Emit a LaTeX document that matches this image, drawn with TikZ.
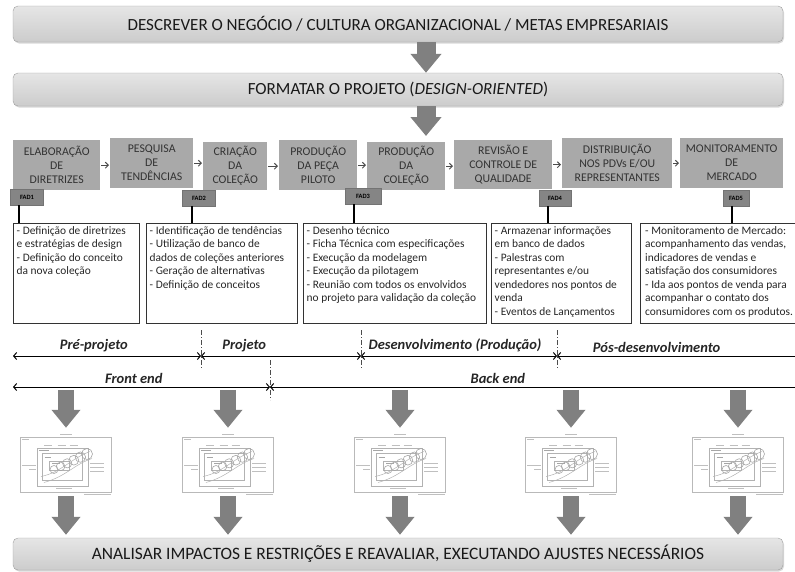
\documentclass[tikz,border=0pt]{standalone}
\usepackage{fontspec}
\setmainfont{Carlito}
\usetikzlibrary{arrows.meta,shadows,positioning}

\definecolor{stepgray}{HTML}{A9A9A9}
\definecolor{fadgray}{HTML}{858585}
\definecolor{arrowgray}{HTML}{808080}
\definecolor{inkgray}{HTML}{262626}

\tikzset{
    banner/.style={rectangle, rounded corners=5pt, draw=gray!75, top color=gray!20, bottom color=gray!40,
        drop shadow={shadow xshift=1pt, shadow yshift=-1.5pt, opacity=.3},
        minimum width=770pt, text=black!90, font=\fontsize{17}{20}\selectfont},
    stepbox/.style={rectangle, fill=stepgray, text=black!80, align=center, anchor=north west,
        font=\fontsize{11.8}{14}\selectfont, inner sep=0pt},
    fad/.style={rectangle, fill=fadgray, draw=black!55, text=black, minimum height=16pt,
        font=\bfseries\fontsize{6.5}{7}\selectfont, inner sep=0pt},
    notebox/.style={rectangle, draw=black!80, line width=.8pt, anchor=north west, inner sep=0pt},
    notetext/.style={anchor=north west, align=left, text=inkgray, font=\fontsize{11.4}{13.5}\selectfont, inner sep=0pt},
    steparrow/.style={-{Straight Barb[length=3pt,width=6pt]}, line width=1pt, black!70},
    fadline/.style={line width=1.6pt, black},
    bigarrow/.style={arrowgray, line width=16pt, -{Triangle[width=28pt,length=18pt]}},
    widearrow/.style={arrowgray, line width=19pt, -{Triangle[width=30pt,length=19pt]}},
    phase/.style={{Straight Barb[length=3pt,width=7pt]}-{Straight Barb[length=3pt,width=7pt]}, line width=1pt},
    phaseopen/.style={{Straight Barb[length=3pt,width=7pt]}-, line width=1pt},
    phaselabel/.style={above=0pt, text=black!85, font=\bfseries\itshape\fontsize{14.5}{16}\selectfont},
    divider/.style={black!70, line width=.6pt, dash pattern=on 5pt off 2pt on 1pt off 2pt},
    thumbframe/.style={rectangle, draw=gray!55, line width=.5pt, minimum width=91pt, minimum height=55pt, inner sep=0pt},
    thumbline/.style={gray!50, line width=.8pt},
}

\begin{document}
\begin{tikzpicture}[x=1pt, y=-1pt]
    \useasboundingbox (0,0) rectangle (795,571);
    \clip (0,0) rectangle (795,571);

    % stages of the brief
    \node[banner, minimum height=36pt] (descr) at (398,24) {DESCREVER O NEGÓCIO / CULTURA ORGANIZACIONAL / METAS EMPRESARIAIS};
    \node[banner, minimum height=33pt] (fmt) at (398,89.5) {FORMATAR O PROJETO (\textit{DESIGN-ORIENTED})};
    \node[banner, minimum height=32pt, font=\fontsize{17.4}{20}\selectfont] (fin) at (398,554) {ANALISAR IMPACTOS E RESTRIÇÕES E REAVALIAR, EXECUTANDO AJUSTES NECESSÁRIOS};

    % process steps
    \node[stepbox, minimum width=87pt, minimum height=50pt] (b1) at (13,140) {ELABORAÇÃO\\DE\\DIRETRIZES};
    \node[stepbox, minimum width=83pt, minimum height=50pt] (b2) at (110,138) {PESQUISA\\DE\\TENDÊNCIAS};
    \node[stepbox, minimum width=64pt, minimum height=48pt] (b3) at (203,142) {CRIAÇÃO\\DA\\COLEÇÃO};
    \node[stepbox, minimum width=78pt, minimum height=50pt] (b4) at (279,140) {PRODUÇÃO\\DA PEÇA\\PILOTO};
    \node[stepbox, minimum width=78pt, minimum height=48pt] (b5) at (367,142) {PRODUÇÃO\\DA\\COLEÇÃO};
    \node[stepbox, minimum width=98pt, minimum height=49pt] (b6) at (454,140) {REVISÃO E\\CONTROLE DE\\QUALIDADE};
    \node[stepbox, minimum width=110pt, minimum height=50pt] (b7) at (562,138) {DISTRIBUIÇÃO\\NOS PDVs E/OU\\REPRESENTANTES};
    \node[stepbox, minimum width=103pt, minimum height=50pt] (b8) at (680,138) {MONITORAMENTO\\DE\\MERCADO};

    \foreach \a/\b in {b1/b2,b2/b3,b3/b4,b4/b5,b5/b6,b6/b7,b7/b8}
        \draw[steparrow] ([xshift=1pt]\a.east) -- ([xshift=-1pt]\a.east -| \b.west);

    \coordinate (ax) at (426,0);
    \draw[widearrow] (descr.south -| ax) -- (fmt.north -| ax);
    \draw[widearrow] (fmt.south -| ax) -- ([yshift=6pt]b5.north -| ax);

    % notes under each step
    \node[notebox, minimum width=126pt, minimum height=100pt] (tb1) at (13,223) {};
    \node[notebox, minimum width=151pt, minimum height=100pt] (tb2) at (146,223) {};
    \node[notebox, minimum width=183pt, minimum height=100pt] (tb3) at (303,223) {};
    \node[notebox, minimum width=140pt, minimum height=100pt] (tb4) at (491,223) {};
    \node[notebox, minimum width=170pt, minimum height=100pt] (tb5) at (640,223) {};

    \node[notetext] (t1) at ([shift={(3.5pt,-3pt)}]tb1.north west)
        {- Definição de diretrizes\\e estratégias de design\\- Definição do conceito\\da nova coleção};
    \node[notetext] (t2) at ([shift={(3.5pt,-3pt)}]tb2.north west)
        {- Identificação de tendências\\- Utilização de banco de\\dados de coleções anteriores\\- Geração de alternativas\\- Definição de conceitos};
    \node[notetext] (t3) at ([shift={(3.5pt,-3pt)}]tb3.north west)
        {- Desenho técnico\\- Ficha Técnica com especificações\\- Execução da modelagem\\- Execução da pilotagem\\- Reunião com todos os envolvidos\\no projeto para validação da coleção};
    \node[notetext] (t4) at ([shift={(3.5pt,-3pt)}]tb4.north west)
        {- Armazenar informações\\em banco de dados\\- Palestras com\\representantes e/ou\\vendedores nos pontos de\\venda\\- Eventos de Lançamentos};
    \node[notetext] (t5) at ([shift={(5pt,-3pt)}]tb5.north west)
        {- Monitoramento de Mercado:\\acompanhamento das vendas,\\indicadores de vendas e\\satisfação dos consumidores\\- Ida aos pontos de venda para\\acompanhar o contato dos\\consumidores com os produtos.};

    % FAD tags
    \node[fad, minimum width=33pt] (fad1) at (27,197) {FAD1};
    \node[fad, minimum width=33pt] (fad2) at (199,198) {FAD2};
    \node[fad, minimum width=36pt] (fad3) at (363,196) {FAD3};
    \node[fad, minimum width=32pt] (fad4) at (555,198) {FAD4};
    \node[fad, minimum width=26pt] (fad5) at (736,198) {FAD5};

    \draw[fadline] ([xshift=-8pt]fad1.south) -- ([xshift=-8pt]fad1.south |- tb1.north);
    \draw[fadline] ([xshift=-7pt]fad2.south) -- ([xshift=-7pt]fad2.south |- tb2.north);
    \draw[fadline] ([xshift=-9pt]fad3.south) -- ([xshift=-9pt]fad3.south |- tb3.north);
    \draw[fadline] ([xshift=-7pt]fad4.south) -- ([xshift=-7pt]fad4.south |- tb4.north);
    \draw[fadline] ([xshift=-4pt]fad5.south) -- ([xshift=-4pt]fad5.south |- tb5.north);

    % phases
    \coordinate (p0) at (13,356);
    \coordinate (p1) at (201,356);
    \coordinate (p2) at (361,356);
    \coordinate (p3) at (557,356);
    \coordinate (p4) at (800,356);
    \coordinate (q0) at (13,387);
    \coordinate (q1) at (270,387);
    \coordinate (q2) at (800,387);

    \foreach \p in {p1,p2,p3}
        \draw[divider] ([yshift=26pt]\p) -- ([yshift=-12pt]\p);
    \draw[divider] ([yshift=27pt]q1) -- ([yshift=-13pt]q1);

    \draw[phase] (p0) -- (p1) node[phaselabel, pos=.43] {Pré-projeto};
    \draw[phase] (p1) -- (p2) node[phaselabel, pos=.27] {Projeto};
    \draw[phase] (p2) -- (p3) node[phaselabel, pos=.48] {Desenvolvimento (Produção)};
    \draw[phaseopen] (p3) -- (p4) node[phaselabel, pos=.41] {Pós-desenvolvimento};
    \draw[phase] (q0) -- (q1) node[phaselabel, pos=.47] {Front end};
    \draw[phaseopen] (q1) -- (q2) node[phaselabel, pos=.43] {Back end};

    % design model thumbnails
    \foreach \i/\cx in {1/66,2/228,3/400,4/571,5/738} {
        \begin{scope}[shift={(\cx,464.5)}]
            \node[thumbframe] (th\i) at (0,0) {};
            \draw[gray!60, line width=.5pt] (-28.5,-16.5) rectangle (22.5,21.5);
            \draw[gray!60, line width=.5pt] (-23.5,-11.5) rectangle (16.5,15.5);
            \draw[gray!60, line width=.5pt] (-16.5,-3.5) rectangle (3.5,5.5);
            \foreach \t in {0,...,5}
                \draw[gray!70, line width=.6pt] ({-12+6.6*\t},{5-3.1*\t}) circle ({4+.3*\t});
            \draw[gray!60, line width=.5pt] (-25,12) .. controls (-5,8) and (5,-6) .. (24,-13);
            \draw[gray!60, line width=.5pt] (-22,18) .. controls (0,12) and (8,0) .. (26,-6);
            % tiny captions
            \draw[thumbline] (-6,-30) -- (6,-30);
            \draw[thumbline] (-44,-25) -- (-37,-25);
            \foreach \lx in {-18,-4.5,7.5}
                \draw[thumbline] (\lx-4,-19.5) -- (\lx+4,-19.5);
            \draw[gray!70, line width=.9pt] (-27,-14.5) -- (-17,-14.5);
            \draw[gray!70, line width=.9pt] (-21.5,-7.5) -- (-15,-7.5);
            \draw[gray!70, line width=.9pt] (-14,-1.5) -- (-6,-1.5);
            \draw[thumbline] (-44,.5) -- (-30,.5);
            \draw[thumbline] (-37,4.5) -- (-30,4.5);
            \foreach \ly in {-1.5,3,7}
                \draw[thumbline] (24,\ly) -- (38,\ly);
            \draw[thumbline] (-10,23.5) -- (6,23.5);
            \draw[thumbline] (18,30) -- (45,30);
        \end{scope}
    }

    \foreach \i in {1,...,5} {
        \draw[bigarrow] ([yshift=47pt]th\i.north) -- ([yshift=9pt]th\i.north);
        \draw[bigarrow] ([yshift=-4pt]th\i.south) -- ([yshift=3pt]th\i.south |- fin.north);
    }
\end{tikzpicture}
\end{document}
